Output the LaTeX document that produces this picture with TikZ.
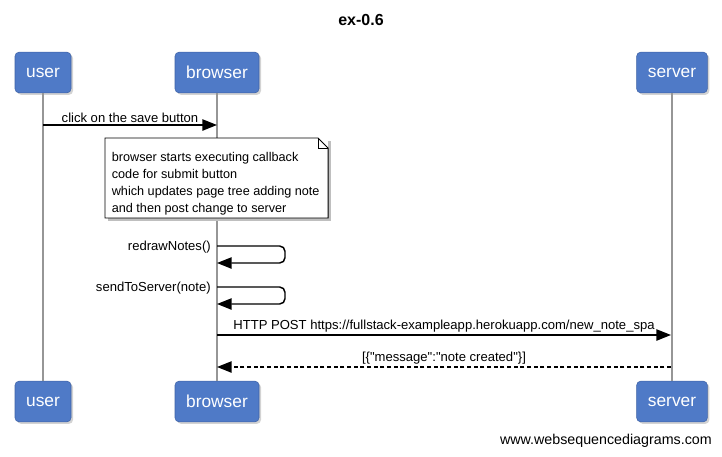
\documentclass[tikz,border=0pt]{standalone}
\usepackage{fontspec}
\setmainfont{Liberation Sans}
\usetikzlibrary{arrows.meta,shadows}
\definecolor{actorblue}{RGB}{79,122,199}
\definecolor{actorline}{RGB}{62,98,165}
\definecolor{lifegray}{RGB}{150,150,150}
\begin{document}
\begin{tikzpicture}[x=0.75pt, y=-0.75pt, >={Triangle[length=11pt,width=8.5pt]},
    actor/.style={draw=actorline, fill=actorblue, rounded corners=3pt, text=white,
        font=\fontsize{13}{15}\selectfont, minimum height=30.5pt,
        drop shadow={shadow xshift=1.5pt, shadow yshift=-1.5pt, opacity=0.35}},
    life/.style={lifegray, line width=1.2pt},
    msg/.style={->, line width=1.1pt},
    reply/.style={->, line width=1.1pt, dash pattern=on 3pt off 2pt},
    lbl/.style={font=\fontsize{9.8}{12}\selectfont, inner sep=1.5pt}]
    \useasboundingbox (0,0) rectangle (722,457);

    % Titolo
    \node[font=\fontsize{12}{14}\selectfont\bfseries] (title) at (361,20) {ex-0.6};

    % Partecipanti
    \node[actor, minimum width=42pt] (usertop) at (43,72.5) {user};
    \node[actor, minimum width=63pt] (browsertop) at (217,72.5) {browser};
    \node[actor, minimum width=53pt] (servertop) at (672,72.5) {server};
    \node[actor, minimum width=42pt] (userbot) at (43,401.5) {user};
    \node[actor, minimum width=63pt] (browserbot) at (217,401.5) {browser};
    \node[actor, minimum width=53pt] (serverbot) at (672,401.5) {server};

    % Linee di vita
    \draw[life] (usertop) -- (userbot);
    \draw[life] (browsertop) -- (browserbot);
    \draw[life] (servertop) -- (serverbot);

    % Click
    \coordinate (clickA) at (43,125);
    \coordinate (clickB) at (217,125);
    \draw[msg] (clickA) -- (clickB) node[lbl, midway, above] {click on the save button};

    % Nota
    \fill[black!25] (108,141) rectangle (331,221);
    \node[fill=white, minimum width=167pt, minimum height=59.5pt, inner sep=0pt] (note) at (216.5,178) {};
    \draw[line width=0.6pt] (note.north west) -- ([xshift=-7.5pt]note.north east)
        -- ([yshift=-7.5pt]note.north east) -- (note.south east) -- (note.south west) -- cycle;
    \draw[line width=0.6pt] ([xshift=-7.5pt]note.north east) |- ([yshift=-7.5pt]note.north east);
    \node[anchor=north west, inner sep=0pt, align=left, font=\fontsize{9.5}{12.75}\selectfont] (notetext)
        at ([xshift=5pt,yshift=-10.5pt]note.north west)
        {browser starts executing callback\\code for submit button\\which updates page tree adding note\\and then post change to server};

    % Chiamate interne
    \coordinate (redrawA) at (217,246);
    \coordinate (redrawB) at (217,263);
    \draw[msg, rounded corners=4pt] (redrawA) -- ++(68,0) |- (redrawB);
    \node[lbl, anchor=east] (redrawlbl) at ([xshift=-3pt,yshift=-1pt]redrawA) {redrawNotes()};

    \coordinate (sendA) at (217,287);
    \coordinate (sendB) at (217,304);
    \draw[msg, rounded corners=4pt] (sendA) -- ++(68,0) |- (sendB);
    \node[lbl, anchor=east] (sendlbl) at ([xshift=-3pt,yshift=-1pt]sendA) {sendToServer(note)};

    % POST e risposta
    \coordinate (postA) at (217,335);
    \coordinate (postB) at (671,335);
    \draw[msg] (postA) -- (postB) node[lbl, midway, above] {HTTP POST https://fullstack-exampleapp.herokuapp.com/new\_note\_spa};

    \coordinate (respA) at (671,367);
    \coordinate (respB) at (217,367);
    \draw[reply] (respA) -- (respB) node[lbl, midway, above]
        {[\{\textquotedbl message\textquotedbl:\textquotedbl note created\textquotedbl\}]};

    % Firma
    \node[font=\fontsize{10.7}{12}\selectfont, anchor=east, inner sep=0pt] (footer) at (712,441) {www.websequencediagrams.com};
\end{tikzpicture}
\end{document}
